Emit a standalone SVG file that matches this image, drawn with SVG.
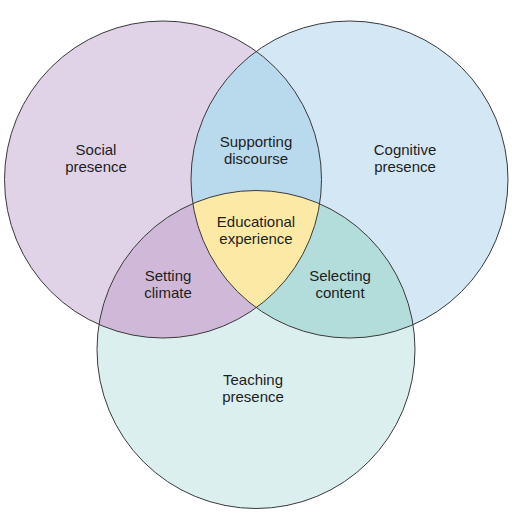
<svg xmlns="http://www.w3.org/2000/svg" width="512" height="529" viewBox="0 0 512 529">
<style>
.c{stroke:#3a3a3a;stroke-width:1;fill:none}
.t{font-family:"Liberation Sans",Arial,sans-serif;font-size:15px;fill:#1e1e1e;text-anchor:middle}
</style>
<defs>
<clipPath id="cA"><circle cx="163" cy="179.5" r="158.5"/></clipPath>
<clipPath id="cB"><circle cx="349.5" cy="179.5" r="158.5"/></clipPath>
<clipPath id="cC"><circle cx="256" cy="349.5" r="159"/></clipPath>
</defs>
<rect width="512" height="529" fill="#fff"/>
<g id="social"><circle cx="163" cy="179.5" r="158.5" fill="#e0d3e8"/></g>
<g id="cognitive"><circle cx="349.5" cy="179.5" r="158.5" fill="#d3e7f4"/></g>
<g id="teaching"><circle cx="256" cy="349.5" r="159" fill="#dbefee"/></g>
<g id="supporting" clip-path="url(#cA)"><circle cx="349.5" cy="179.5" r="158.5" fill="#b9d9ed"/></g>
<g id="setting" clip-path="url(#cA)"><circle cx="256" cy="349.5" r="159" fill="#d0b9d8"/></g>
<g id="selecting" clip-path="url(#cB)"><circle cx="256" cy="349.5" r="159" fill="#b3ddda"/></g>
<g id="educational" clip-path="url(#cA)"><g clip-path="url(#cB)"><circle cx="256" cy="349.5" r="159" fill="#fce9a5"/></g></g>
<g id="outlines">
<circle class="c" cx="163" cy="179.5" r="158.5"/>
<circle class="c" cx="349.5" cy="179.5" r="158.5"/>
<circle class="c" cx="256" cy="349.5" r="159"/>
</g>
<g id="labels">
<text class="t" x="96" y="155">Social</text><text class="t" x="96" y="172">presence</text>
<text class="t" x="405" y="155">Cognitive</text><text class="t" x="405" y="172">presence</text>
<text class="t" x="256" y="147">Supporting</text><text class="t" x="256" y="164">discourse</text>
<text class="t" x="256" y="227">Educational</text><text class="t" x="256" y="244">experience</text>
<text class="t" x="168" y="281">Setting</text><text class="t" x="168" y="298">climate</text>
<text class="t" x="340" y="281">Selecting</text><text class="t" x="340" y="298">content</text>
<text class="t" x="253" y="385">Teaching</text><text class="t" x="253" y="402">presence</text>
</g>
</svg>
